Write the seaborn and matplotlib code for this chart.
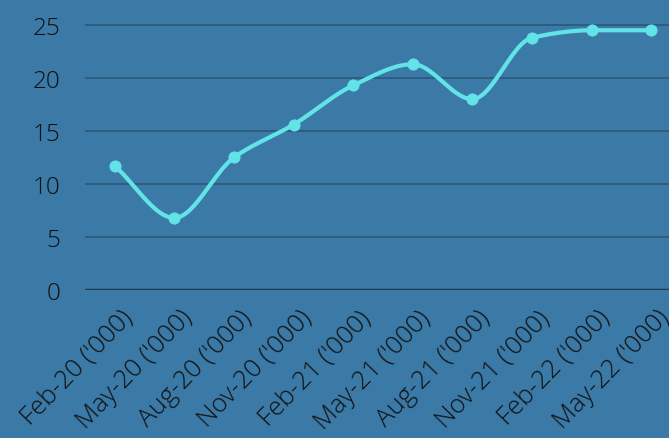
import numpy as np
import pandas as pd
import matplotlib.pyplot as plt
import matplotlib.transforms as mtransforms
import seaborn as sns

# data
labels = ["Feb-20 ('000)", "May-20 ('000)", "Aug-20 ('000)", "Nov-20 ('000)",
          "Feb-21 ('000)", "May-21 ('000)", "Aug-21 ('000)", "Nov-21 ('000)",
          "Feb-22 ('000)", "May-22 ('000)"]
values = [11.7, 6.8, 12.5, 15.6, 19.3, 21.3, 18.0, 23.8, 24.5, 24.5]

df = pd.DataFrame({'idx': np.arange(len(labels)), 'value': values})


def monotone_curve(x, y, n=30):
    # monotone cubic (Fritsch-Carlson) so the line looks like the smooth original
    x = np.asarray(x, float)
    y = np.asarray(y, float)
    h = np.diff(x)
    d = np.diff(y) / h
    m = np.zeros_like(y)
    m[0], m[-1] = d[0], d[-1]
    for i in range(1, len(y) - 1):
        if d[i - 1] * d[i] <= 0:
            m[i] = 0
        else:
            m[i] = 3 * (h[i - 1] + h[i]) / ((2 * h[i] + h[i - 1]) / d[i - 1] + (h[i] + 2 * h[i - 1]) / d[i])
    xs, ys = [], []
    for i in range(len(h)):
        t = np.linspace(0, 1, n)
        h00 = 2 * t**3 - 3 * t**2 + 1
        h10 = t**3 - 2 * t**2 + t
        h01 = -2 * t**3 + 3 * t**2
        h11 = t**3 - t**2
        xs.append(x[i] + t * h[i])
        ys.append(h00 * y[i] + h10 * h[i] * m[i] + h01 * y[i + 1] + h11 * h[i] * m[i + 1])
    return np.concatenate(xs), np.concatenate(ys)


sx, sy = monotone_curve(df['idx'], df['value'])
curve = pd.DataFrame({'x': sx, 'y': sy})

sns.set_style('white')
plt.rcParams['font.family'] = ['Open Sans', 'DejaVu Sans']

bg = '#3b79a6'
fig = plt.figure(figsize=(6.69, 4.39), dpi=100, facecolor=bg)
ax = fig.add_axes([85 / 669, (439 - 291) / 439, 1 - 85 / 669, 291 / 439])
ax.set_facecolor(bg)

line_c = '#62e3e8'
sns.lineplot(data=curve, x='x', y='y', ax=ax, color=line_c, linewidth=3, sort=False)
sns.scatterplot(data=df, x='idx', y='value', ax=ax, color=line_c, s=65,
                edgecolor=line_c, zorder=5)

ax.set_xlim(-0.5, 9.3)
ax.set_ylim(0, 27.45)
ax.set_yticks([0, 5, 10, 15, 20, 25])
ax.yaxis.grid(True, color='#2b5878', linewidth=1.2)
ax.axhline(0, color='#1f3d55', linewidth=2.5, zorder=3)
ax.set_axisbelow(True)

ax.set_xticks(df['idx'])
ax.set_xticklabels(labels, rotation=46, ha='right', rotation_mode='anchor',
                   fontsize=18.5, color='#111111', fontweight='light')
ax.tick_params(axis='y', labelsize=17.5, labelcolor='#111111', length=0, pad=18)
ax.tick_params(axis='x', length=0, pad=2)
for lab in ax.get_yticklabels():
    lab.set_fontweight('light')
for s in ax.spines.values():
    s.set_visible(False)
ax.set_xlabel('')
ax.set_ylabel('')

# shift x labels so their end sits right of the tick like the original
offset = mtransforms.ScaledTranslation(0.05, -0.12, fig.dpi_scale_trans)
for lab in ax.get_xticklabels():
    lab.set_transform(lab.get_transform() + offset)

fig.savefig('out.png', dpi=100, facecolor=bg)
